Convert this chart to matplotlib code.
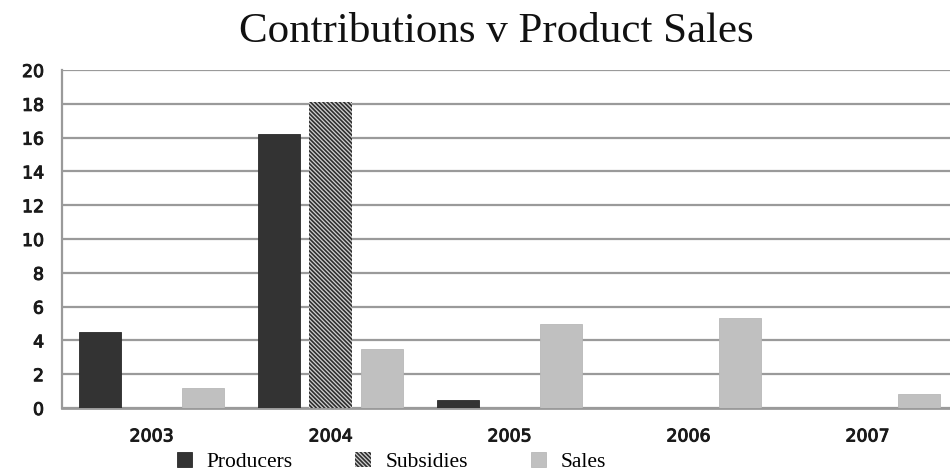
import matplotlib
matplotlib.use("Agg")
import matplotlib.pyplot as plt
import matplotlib.patheffects as pe
import numpy as np

years = ["2003", "2004", "2005", "2006", "2007"]
producers = [4.5, 16.2, 0.5, 0, 0]
subsidies = [0, 18.1, 0, 0, 0]
sales = [1.2, 3.5, 5.0, 5.3, 0.8]

plt.rcParams["hatch.linewidth"] = 1.2
fig = plt.figure(figsize=(9.5, 4.72), dpi=100)
ax = fig.add_axes([0.0653, 0.1356, 0.942, 0.716])

x = np.arange(len(years))
step = 0.288
wide = 0.235

b1 = ax.bar(x - step, producers, width=wide, color="#333333", edgecolor="#2a2a2a", linewidth=0.6, zorder=3)
b2 = ax.bar(x, subsidies, width=wide, color="#d0d0d0", edgecolor="#2e2e2e",
            hatch="\\\\\\\\\\\\\\\\", linewidth=0, zorder=3)
b3 = ax.bar(x + step, sales, width=wide, color="#c0c0c0", edgecolor="#b8b8b8", linewidth=0.6, zorder=3)

ax.set_xlim(-0.5, 4.5)
ax.set_ylim(0, 20)
ax.set_yticks(range(0, 21, 2))
ax.set_xticks(x)
ax.set_xticklabels(years)
ax.yaxis.grid(True, color="#9a9a9a", linewidth=1.6, zorder=0)
ax.set_axisbelow(True)
for s in ["top", "right"]:
    ax.spines[s].set_visible(False)
ax.spines["left"].set_color("#9a9a9a")
ax.spines["left"].set_linewidth(1.6)
ax.spines["bottom"].set_color("#9a9a9a")
ax.spines["bottom"].set_linewidth(2)
ax.tick_params(axis="both", length=0, labelsize=12.5, colors="#1a1a1a")
ax.tick_params(axis="y", pad=13)
ax.tick_params(axis="x", pad=14)
for t in ax.get_xticklabels() + ax.get_yticklabels():
    t.set_path_effects([pe.withStroke(linewidth=0.7, foreground="#1a1a1a")])

fig.text(0.522, 0.933, "Contributions v Product Sales", ha="center", va="center",
         fontsize=31, family="Liberation Serif", color="#111111")

fig.legend((b1[0], b2[0], b3[0]), ("Producers", "Subsidies", "Sales"),
           loc="center", bbox_to_anchor=(0.412, 0.022), ncol=3, frameon=False,
           prop={"family": "Liberation Serif", "size": 15.5},
           handlelength=0.7, handleheight=0.7, columnspacing=2.9, handletextpad=0.7)

fig.savefig("out.png", dpi=100)
